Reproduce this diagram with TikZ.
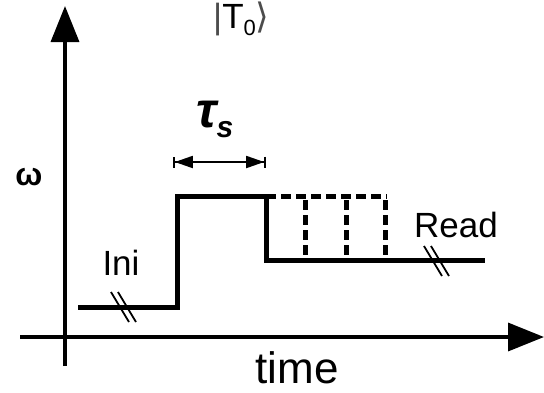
\documentclass[tikz,border=0pt]{standalone}
\usepackage{fontspec}
\setmainfont{Liberation Sans}
\newfontfamily\dejavu{DejaVu Sans}
\usetikzlibrary{arrows.meta}
\begin{document}
\begin{tikzpicture}[x=1pt,y=-1pt,
  axis/.style={line width=3.5pt,-{Triangle[length=36pt,width=28pt]}},
  sig/.style={line width=5pt,line join=miter},
  dsig/.style={line width=5pt,dash pattern=on 10pt off 5pt},
  brk/.style={line width=1.8pt},
  lbl/.style={font=\fontsize{35}{36}\selectfont,inner sep=0pt}]
\useasboundingbox (0,0) rectangle (544,392);
% axes
\coordinate (yb) at (65,366);
\coordinate (yt) at (65,6);
\coordinate (xl) at (20,337);
\coordinate (xr) at (544,337);
\draw[axis] (yb) -- (yt);
\draw[axis] (xl) -- (xr);
% signal
\coordinate (s0) at (78,307);
\coordinate (s1) at (177,307);
\coordinate (s2) at (177,196);
\coordinate (s3) at (266,196);
\coordinate (s4) at (266,260);
\coordinate (s5) at (485,260);
\draw[sig] (s0) -- (s1) -- (s2) -- (s3) -- (s4) -- (s5);
% dashed
\coordinate (d0) at (266,196);
\coordinate (d1) at (387,196);
\draw[dsig] (d0) -- (d1);
\foreach \x in {305,346,385}{
  \draw[dsig] (\x,200) -- (\x,258);
}
% break marks
\foreach \px/\py in {124/307,437/261}{
  \begin{scope}[shift={(\px,\py)}]
    \draw[brk] (-13,-15) -- (5,15);
    \draw[brk] (-6,-15) -- (12,15);
  \end{scope}
}
% tau arrow
\coordinate (ta) at (173,162);
\coordinate (tb) at (266,162);
\draw[line width=1.8pt,{Bar[width=11pt]Triangle[length=18pt,width=12pt]}-{Triangle[length=18pt,width=12pt]Bar[width=11pt]}] (ta) -- (tb);
% labels
\node[inner sep=0pt,anchor=base west] (tau) at (196,127) {\fontsize{50}{50}\selectfont\bfseries\itshape τ\raisebox{-10pt}{\fontsize{30}{30}\selectfont s}};
\node[lbl] (ini) at (121,263) {Ini};
\node[lbl] (read) at (456,225) {Read};
\node[font=\fontsize{32}{32}\selectfont\bfseries,inner sep=0pt] (om) at (29,177) {ω};
\node[inner sep=0pt,anchor=base] (time) at (297,383) {\fontsize{44}{44}\selectfont time};
\node[inner sep=0pt,anchor=base west] (ket) at (213,28) {\fontsize{35}{35}\selectfont\color{black!70}|\color{black}T\raisebox{-7pt}{\fontsize{22}{22}\selectfont 0}{\dejavu\color{black!70}⟩}};
\end{tikzpicture}
\end{document}
